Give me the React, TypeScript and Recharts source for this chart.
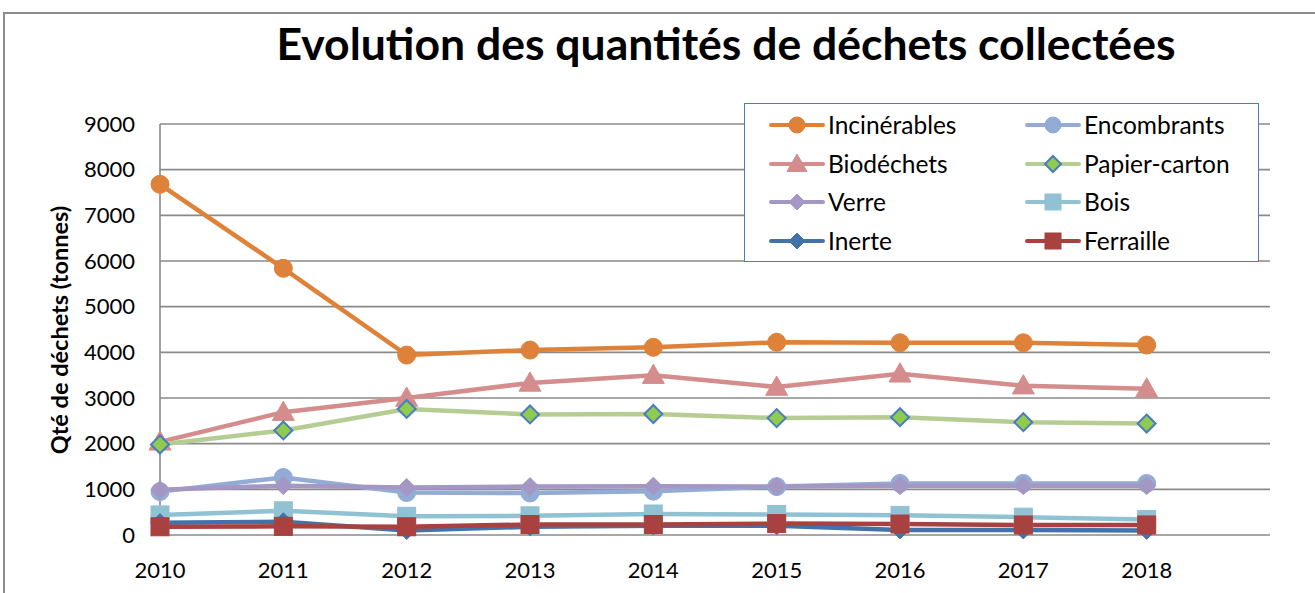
import React from "react";
import {
  LineChart,
  Line,
  XAxis,
  YAxis,
  CartesianGrid,
  Label,
} from "recharts";

// années et quantités (tonnes)
const annees = [2010, 2011, 2012, 2013, 2014, 2015, 2016, 2017, 2018];
const incinerables = [7680, 5840, 3940, 4050, 4110, 4220, 4210, 4210, 4160];
const encombrants = [950, 1260, 930, 920, 960, 1060, 1130, 1130, 1130];
const biodechets = [2040, 2690, 3000, 3330, 3500, 3240, 3530, 3270, 3200];
const papierCarton = [1980, 2290, 2760, 2640, 2650, 2560, 2580, 2470, 2440];
const verre = [990, 1080, 1040, 1060, 1070, 1060, 1080, 1080, 1080];
const bois = [440, 530, 410, 420, 460, 450, 430, 390, 340];
const inerte = [270, 290, 100, 180, 200, 200, 110, 110, 100];
const ferraille = [180, 190, 180, 230, 230, 250, 240, 220, 220];

const yTicks = [0, 1000, 2000, 3000, 4000, 5000, 6000, 7000, 8000, 9000];

const FONT = "Lato, 'Open Sans', sans-serif";
const GRID = "#8a8a8a";

type Serie = {
  key: string;
  nom: string;
  valeurs: number[];
  couleur: string;
  forme: "rond" | "triangle" | "losange" | "carre";
  remplissage: string;
  contour: string;
  taille: number;
};

const SERIES: Serie[] = [
  { key: "incinerables", nom: "Incinérables", valeurs: incinerables, couleur: "#DE8139", forme: "rond", remplissage: "#DE8139", contour: "#DE8139", taille: 9 },
  { key: "encombrants", nom: "Encombrants", valeurs: encombrants, couleur: "#92ACD6", forme: "rond", remplissage: "#92ACD6", contour: "#92ACD6", taille: 9 },
  { key: "biodechets", nom: "Biodéchets", valeurs: biodechets, couleur: "#D48C8C", forme: "triangle", remplissage: "#D48C8C", contour: "#D48C8C", taille: 11 },
  { key: "papier", nom: "Papier-carton", valeurs: papierCarton, couleur: "#B5CD93", forme: "losange", remplissage: "#8FCB4E", contour: "#4A7CC0", taille: 9 },
  { key: "verre", nom: "Verre", valeurs: verre, couleur: "#A597C3", forme: "losange", remplissage: "#A597C3", contour: "#A597C3", taille: 9 },
  { key: "bois", nom: "Bois", valeurs: bois, couleur: "#90C2D4", forme: "carre", remplissage: "#90C2D4", contour: "#90C2D4", taille: 9 },
  { key: "inerte", nom: "Inerte", valeurs: inerte, couleur: "#4371AA", forme: "losange", remplissage: "#4371AA", contour: "#4371AA", taille: 9 },
  { key: "ferraille", nom: "Ferraille", valeurs: ferraille, couleur: "#A8413F", forme: "carre", remplissage: "#A8413F", contour: "#A8413F", taille: 9 },
];

const data = annees.map((annee, i) => {
  const row: Record<string, number> = { annee };
  SERIES.forEach((s) => {
    row[s.key] = s.valeurs[i];
  });
  return row;
});

function Marqueur({ cx, cy, s }: { cx: number; cy: number; s: Serie }) {
  const t = s.taille;
  if (s.forme === "rond") {
    return <circle cx={cx} cy={cy} r={t} fill={s.remplissage} stroke={s.contour} strokeWidth={1} />;
  }
  if (s.forme === "carre") {
    return <rect x={cx - t} y={cy - t} width={2 * t} height={2 * t} fill={s.remplissage} stroke={s.contour} strokeWidth={1} />;
  }
  if (s.forme === "triangle") {
    return (
      <polygon
        points={`${cx},${cy - t} ${cx + t},${cy + t * 0.75} ${cx - t},${cy + t * 0.75}`}
        fill={s.remplissage}
        stroke={s.contour}
        strokeWidth={1}
      />
    );
  }
  return (
    <polygon
      points={`${cx},${cy - t} ${cx + t},${cy} ${cx},${cy + t} ${cx - t},${cy}`}
      fill={s.remplissage}
      stroke={s.contour}
      strokeWidth={s.contour === s.remplissage ? 1 : 2}
    />
  );
}

const Legende = () => (
  <div
    style={{
      position: "absolute",
      left: 744,
      top: 103,
      width: 515,
      height: 159,
      border: "1.5px solid #4A7CC0",
      background: "white",
      boxSizing: "border-box",
      fontFamily: FONT,
      fontSize: 24.5,
      color: "#000",
    }}
  >
    {SERIES.map((s, i) => {
      const col = i % 2;
      const row = Math.floor(i / 2);
      const left = col === 0 ? 24 : 280;
      const top = 21 + row * 38.5;
      return (
        <div key={s.key} style={{ position: "absolute", left, top: top - 14, height: 28, display: "flex", alignItems: "center", whiteSpace: "nowrap" }}>
          <svg width={56} height={28}>
            <line x1={2} y1={14} x2={54} y2={14} stroke={s.couleur} strokeWidth={4} strokeLinecap="round" />
            <Marqueur cx={28} cy={14} s={{ ...s, taille: s.taille - 1 }} />
          </svg>
          <span style={{ marginLeft: 3, lineHeight: "28px" }}>{s.nom}</span>
        </div>
      );
    })}
  </div>
);

export default function App() {
  return (
    <div style={{ position: "absolute", left: 0, top: 0, width: 1315, height: 593, overflow: "hidden", background: "white" }}>
      <div
        style={{
          position: "absolute",
          left: 3,
          top: 12,
          width: 1330,
          height: 620,
          border: "2px solid #8c8c8c",
          boxSizing: "border-box",
        }}
      />
      <div
        style={{
          position: "absolute",
          left: 0,
          top: 17,
          width: 1452,
          textAlign: "center",
          fontFamily: FONT,
          fontWeight: 700,
          fontSize: 44.5,
          lineHeight: "52px",
          color: "#000",
        }}
      >
        Evolution des quantités de déchets collectées
      </div>
      <div style={{ position: "absolute", left: 0, top: 0 }}>
        <LineChart
          width={1315}
          height={593}
          data={data}
          margin={{ top: 124, right: 45, bottom: 0, left: 100 }}
        >
          <CartesianGrid vertical={false} stroke={GRID} strokeWidth={1.6} />
          <XAxis
            dataKey="annee"
            type="number"
            domain={[2010, 2019]}
            ticks={annees}
            interval={0}
            tickLine={false}
            axisLine={false}
            tickSize={0}
            tickMargin={27}
            tick={{ fontFamily: FONT, fontSize: 22, fill: "#000" }}
            height={58}
          />
          <YAxis
            domain={[0, 9000]}
            ticks={yTicks}
            interval={0}
            width={60}
            tickLine={false}
            axisLine={{ stroke: GRID, strokeWidth: 1.6 }}
            tickSize={0}
            tickMargin={25}
            tick={{ fontFamily: FONT, fontSize: 22, fill: "#000" }}
          >
            <Label
              content={() => (
                <text
                  x={59}
                  y={330}
                  transform="rotate(-90 59 330)"
                  textAnchor="middle"
                  dominantBaseline="central"
                  fontFamily={FONT}
                  fontWeight={700}
                  fontSize={23.5}
                  fill="#000"
                >
                  Qté de déchets (tonnes)
                </text>
              )}
            />
          </YAxis>
          {SERIES.map((s) => (
            <Line
              key={s.key}
              dataKey={s.key}
              name={s.nom}
              stroke={s.couleur}
              strokeWidth={4.5}
              isAnimationActive={false}
              dot={(p: any) => <Marqueur key={`${s.key}-${p.index}`} cx={p.cx} cy={p.cy} s={s} />}
              activeDot={false}
            />
          ))}
        </LineChart>
      </div>
      <Legende />
    </div>
  );
}
